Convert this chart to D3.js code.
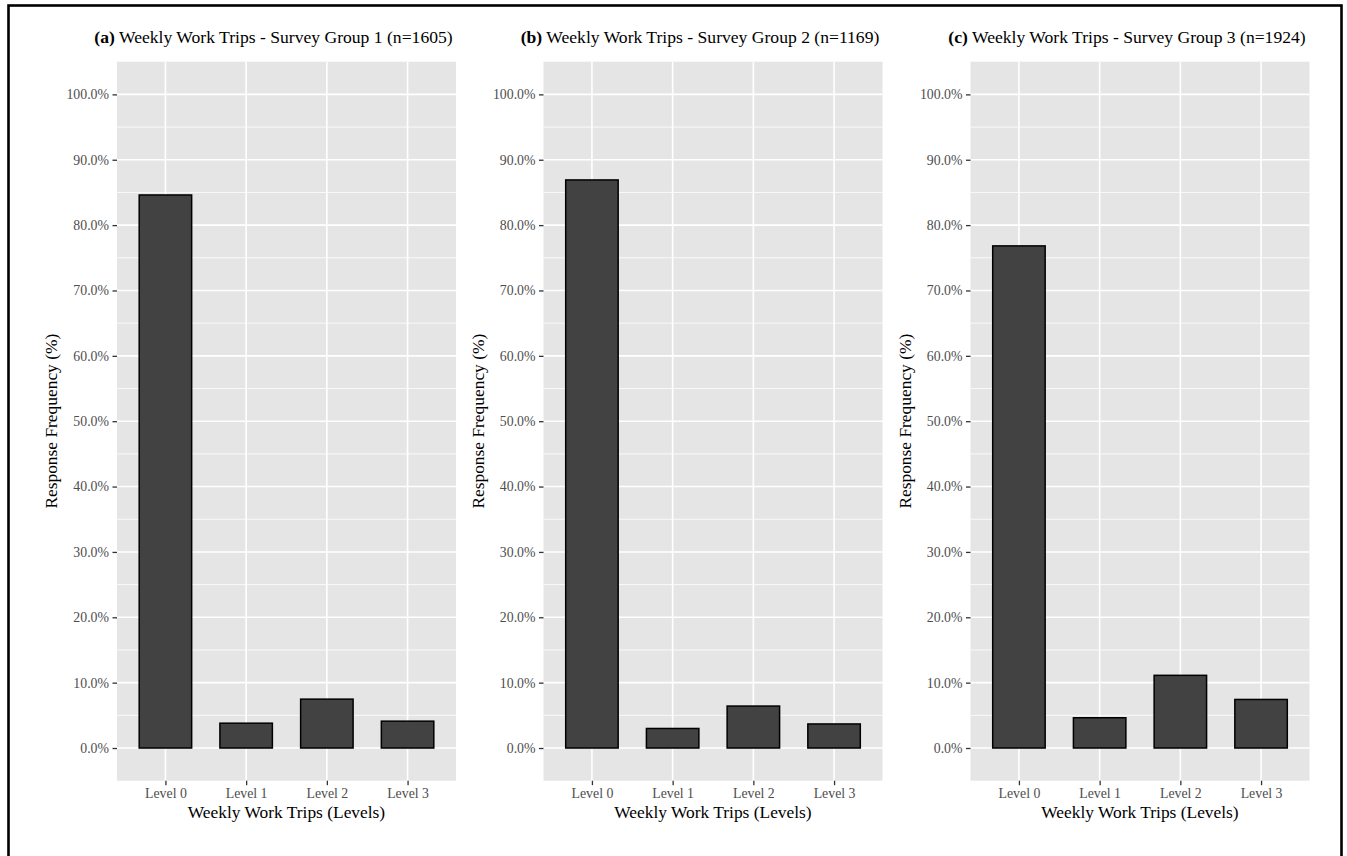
<!DOCTYPE html>
<html>
<head>
<meta charset="utf-8">
<script src="https://cdn.jsdelivr.net/npm/d3@7"></script>
<style>
  html, body { margin: 0; padding: 0; background: #ffffff; }
  svg { display: block; }
  text { font-family: "Liberation Serif", "Times New Roman", serif; }
</style>
</head>
<body>
<div id="chart"></div>
<script>
// Weekly work trip levels for three survey groups (percent of respondents)
const levels = ["Level 0", "Level 1", "Level 2", "Level 3"];
const panelTags = ["(a)", "(b)", "(c)"];
const panelTitles = [
  "Weekly Work Trips - Survey Group 1 (n=1605)",
  "Weekly Work Trips - Survey Group 2 (n=1169)",
  "Weekly Work Trips - Survey Group 3 (n=1924)"
];
const group1 = [84.61, 3.80, 7.48, 4.11];
const group2 = [86.91, 2.99, 6.42, 3.68];
const group3 = [76.82, 4.63, 11.12, 7.43];
const yTicks = [0, 10, 20, 30, 40, 50, 60, 70, 80, 90, 100];
const yMinor = [5, 15, 25, 35, 45, 55, 65, 75, 85, 95];
const xAxisTitle = "Weekly Work Trips (Levels)";
const yAxisTitle = "Response Frequency (%)";

const groups = [group1, group2, group3];

const W = 1347, H = 856;
const svg = d3.select("#chart").append("svg")
  .attr("width", W).attr("height", H);

// outer frame
svg.append("rect")
  .attr("x", 8.5).attr("y", 5.5)
  .attr("width", 1333).attr("height", 880)
  .attr("fill", "none").attr("stroke", "#000").attr("stroke-width", 2.6);

const panelLefts = [117, 543.5, 970.5];
const panelW = 339;
const panelTop = 61.7, panelBottom = 780.7;

const y = d3.scaleLinear().domain([-5, 105]).range([panelBottom, panelTop]);

groups.forEach((vals, i) => {
  const left = panelLefts[i];
  const g = svg.append("g");

  const x = d3.scalePoint().domain(levels)
    .range([left, left + panelW]).padding(0.6);
  const step = x.step();
  const barW = step * 0.65;

  // panel background
  g.append("rect")
    .attr("x", left).attr("y", panelTop)
    .attr("width", panelW).attr("height", panelBottom - panelTop)
    .attr("fill", "#E5E5E5");

  // minor grid
  g.selectAll(".minor").data(yMinor).enter().append("line")
    .attr("x1", left).attr("x2", left + panelW)
    .attr("y1", d => y(d)).attr("y2", d => y(d))
    .attr("stroke", "#fff").attr("stroke-width", 0.8);

  // major grid
  g.selectAll(".majorY").data(yTicks).enter().append("line")
    .attr("x1", left).attr("x2", left + panelW)
    .attr("y1", d => y(d)).attr("y2", d => y(d))
    .attr("stroke", "#fff").attr("stroke-width", 1.6);
  g.selectAll(".majorX").data(levels).enter().append("line")
    .attr("x1", d => x(d)).attr("x2", d => x(d))
    .attr("y1", panelTop).attr("y2", panelBottom)
    .attr("stroke", "#fff").attr("stroke-width", 1.6);

  // bars
  g.selectAll(".bar").data(levels.map((l, k) => ({ l, v: vals[k] })))
    .enter().append("rect")
    .attr("x", d => x(d.l) - barW / 2)
    .attr("width", barW)
    .attr("y", d => y(d.v))
    .attr("height", d => y(0) - y(d.v))
    .attr("fill", "#424242")
    .attr("stroke", "#000")
    .attr("stroke-width", 1.5);

  // y axis
  const ya = g.append("g")
    .attr("transform", `translate(${left},0)`)
    .call(d3.axisLeft(y).tickValues(yTicks)
      .tickFormat(d => d.toFixed(1) + "%").tickSize(4.5).tickPadding(3.5));
  ya.select(".domain").remove();
  ya.selectAll(".tick line").attr("stroke", "#333").attr("stroke-width", 1.3);
  ya.selectAll(".tick text").attr("fill", "#4D4D4D")
    .style("font-size", "13.8px").style("font-family", "'Liberation Serif', serif");

  // x axis
  const xa = g.append("g")
    .attr("transform", `translate(0,${panelBottom})`)
    .call(d3.axisBottom(x).tickSize(4.5).tickPadding(3.5));
  xa.select(".domain").remove();
  xa.selectAll(".tick line").attr("stroke", "#333").attr("stroke-width", 1.3);
  xa.selectAll(".tick text").attr("fill", "#4D4D4D")
    .style("font-size", "13.8px").style("font-family", "'Liberation Serif', serif");

  // axis titles
  g.append("text")
    .attr("x", left + panelW / 2).attr("y", 818)
    .attr("text-anchor", "middle")
    .style("font-size", "17.4px").attr("fill", "#000")
    .text(xAxisTitle);
  g.append("text")
    .attr("transform", `translate(${left - 60},${(panelTop + panelBottom) / 2}) rotate(-90)`)
    .attr("text-anchor", "middle")
    .style("font-size", "17.4px").attr("fill", "#000")
    .text(yAxisTitle);

  // panel title
  const t = g.append("text")
    .attr("x", left + panelW / 2 - 13).attr("y", 43)
    .attr("text-anchor", "middle")
    .style("font-size", "17.6px").attr("fill", "#000");
  t.append("tspan").style("font-weight", "bold").text(panelTags[i]);
  t.append("tspan").text(" " + panelTitles[i]);
});
</script>
</body>
</html>
